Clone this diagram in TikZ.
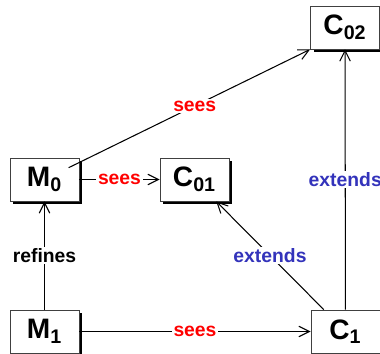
\documentclass[tikz,border=0pt]{standalone}
\usepackage{fontspec}
\setmainfont{Liberation Sans}
\usepackage{xcolor}
\usepackage{tikz}
\usetikzlibrary{arrows.meta, positioning, shadows}
\definecolor{extblue}{RGB}{51,51,187}

\begin{document}
\begin{tikzpicture}
  [
    x=0.02cm, y=-0.02cm,
    Box/.style={rectangle, draw=black!75, fill=white, line width=0.5pt,
      minimum width=1.38cm, minimum height=0.86cm, inner sep=0pt,
      font=\fontsize{16}{18}\selectfont\bfseries,
      drop shadow={shadow xshift=0.06cm, shadow yshift=-0.06cm, fill=black, opacity=1}},
    Link/.style={draw=black, line width=0.6pt, -{Straight Barb[length=6pt, width=6pt]}},
    Lab/.style={fill=white, inner sep=1pt, font=\fontsize{11}{13}\selectfont\bfseries},
    Sees/.style={Lab, text=red},
    Extends/.style={Lab, text=extblue}
  ]
  \useasboundingbox (0,0) rectangle (380,354);
  % Nodes
  \node[Box] (M0) at (44.5, 179.5) {M\textsubscript{0}};
  \node[Box] (C01) at (194.5, 179.5) {C\textsubscript{01}};
  \node[Box] (C02) at (345, 27.5) {C\textsubscript{02}};
  \node[Box] (M1) at (44.5, 331.5) {M\textsubscript{1}};
  \node[Box] (C1) at (345.5, 331.5) {C\textsubscript{1}};

  % Links
  \draw[Link] (M1) -- node[Lab] {refines} (M0);
  \draw[Link] (M0) -- node[Sees] {sees} (C01);
  \draw[Link, shorten <=-0.24cm] (M0) -- node[Sees] {sees} (C02.south west);
  \draw[Link] (M1) -- node[Sees] {sees} (C1);
  \draw[Link] (C1) -- node[Extends] {extends} (C01);
  \draw[Link] (C1) -- node[Extends] {extends} (C02);
\end{tikzpicture}
\end{document}
